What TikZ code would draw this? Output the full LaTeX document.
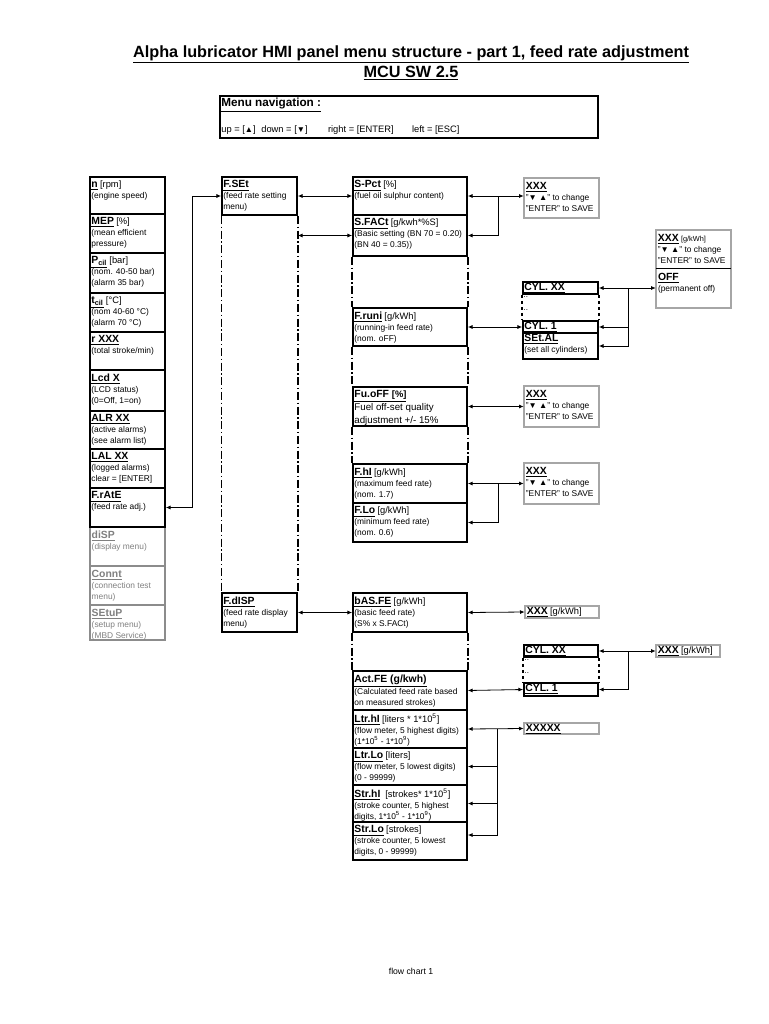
\documentclass[tikz,border=0pt]{standalone}
\usepackage{fontspec}
\setmainfont{Liberation Sans}
\usetikzlibrary{arrows.meta,fit}

\newcommand{\hd}[1]{{\fontsize{7.8}{9}\selectfont\bfseries\underline{#1}}}
\newcommand{\un}[1]{{\fontsize{7}{9}\selectfont #1}}
\newcommand{\tri}[1]{{\fontsize{6.2}{6}\selectfont #1}}

\begin{document}
\begin{tikzpicture}[
  x=0.75pt, y=-0.75pt,
  cell/.style={draw, line width=1.3pt, inner sep=0pt},
  greycell/.style={draw=black!45, line width=0.8pt, inner sep=0pt},
  dbl/.style={draw, line width=0.5pt, double=black!35, double distance=1pt, inner sep=0pt},
  txt/.style={anchor=north west, align=left, inner xsep=1.5pt, inner ysep=3.2pt, font=\fontsize{6.3}{8.2}\selectfont},
  greytxt/.style={txt, text=black!50},
  slim/.style={txt, inner ysep=1.2pt},
  rail/.style={line width=1.1pt, dash pattern=on 6pt off 2pt on 1pt off 2pt},
  dots/.style={line width=1pt, dash pattern=on 2.5pt off 2pt},
  arrow/.style={{Latex[length=3.5pt,width=3pt]}-{Latex[length=3.5pt,width=3pt]}, line width=0.6pt},
  back/.style={{Latex[length=3.5pt,width=3pt]}-, line width=0.6pt}
]
\fill[white] (0,0) rectangle (768,1024);
\useasboundingbox (0,0) rectangle (768,1024);

% title
\node[font=\fontsize{12.2}{15}\selectfont\bfseries, align=center] (title) at (411,63)
  {\underline{Alpha lubricator HMI panel menu structure - part 1, feed rate adjustment}\\\underline{MCU SW 2.5}};

% menu navigation
\node[cell, line width=1.4pt, fit={(220,96) (598,138)},
  label={[txt, inner ysep=2pt, font=\fontsize{8.8}{10}\selectfont\bfseries]north west:{\underline{Menu navigation :}}}] (nav) {};
\node[anchor=base west, inner sep=0pt, font=\fontsize{7}{9}\selectfont] (keys) at ([xshift=1.5pt,yshift=5pt]nav.south west)
  {\makebox[30pt][l]{up = [\tri{▲}]}\makebox[50pt][l]{down = [\tri{▼}]}\makebox[63pt][l]{right = [ENTER]}left = [ESC]};

% main menu
\node[greycell, fit={(90,527) (165,566)}, label={[greytxt]north west:{\hd{diSP}\\(display menu)}}] (disp) {};
\node[greycell, fit={(90,566) (165,605)}, label={[greytxt]north west:{\hd{Connt}\\(connection test\\menu)}}] (connt) {};
\node[greycell, fit={(90,605) (165,640)}, label={[greytxt]north west:{\hd{SEtuP}\\(setup menu)\\(MBD Service)}}] (setup) {};
\node[cell, fit={(90,177) (165,214)}, label={[txt]north west:{\hd{n} \un{[rpm]}\\(engine speed)}}] (n) {};
\node[cell, fit={(90,214) (165,253)}, label={[txt]north west:{\hd{MEP} \un{[\%]}\\(mean efficient\\pressure)}}] (mep) {};
\node[cell, fit={(90,253) (165,293)}, label={[txt]north west:{\hd{P\textsubscript{cil}} \un{[bar]}\\(nom. 40-50 bar)\\(alarm 35 bar)}}] (pcil) {};
\node[cell, fit={(90,293) (165,332)}, label={[txt]north west:{\hd{t\textsubscript{cil}} \un{[°C]}\\(nom 40-60 °C)\\(alarm 70 °C)}}] (tcil) {};
\node[cell, fit={(90,332) (165,370)}, label={[txt]north west:{\hd{r XXX}\\(total stroke/min)}}] (rxxx) {};
\node[cell, fit={(90,370) (165,411)}, label={[txt]north west:{\hd{Lcd X}\\(LCD status)\\(0=Off, 1=on)}}] (lcd) {};
\node[cell, fit={(90,411) (165,449)}, label={[txt]north west:{\hd{ALR XX}\\(active alarms)\\(see alarm list)}}] (alr) {};
\node[cell, fit={(90,449) (165,488)}, label={[txt]north west:{\hd{LAL XX}\\(logged alarms)\\clear = [ENTER]}}] (lal) {};
\node[cell, fit={(90,488) (165,527)}, label={[txt]north west:{\hd{F.rAtE}\\(feed rate adj.)}}] (frate) {};

% feed rate menu
\node[cell, fit={(222,177) (297,215)}, label={[txt]north west:{\hd{F.SEt}\\(feed rate setting\\menu)}}] (fset) {};
\node[cell, fit={(222,593) (297,632)}, label={[txt]north west:{\hd{F.dISP}\\(feed rate display\\menu)}}] (fdisp) {};

% setting items
\node[cell, fit={(353,177) (467,215)}, label={[txt]north west:{\hd{S-Pct} \un{[\%]}\\(fuel oil sulphur content)}}] (spct) {};
\node[cell, fit={(353,215) (467,256)}, label={[txt]north west:{\hd{S.FACt} \un{[g/kwh*\%S]}\\(Basic setting (BN 70 = 0.20)\\(BN 40 = 0.35))}}] (sfact) {};
\node[cell, fit={(353,308) (467,346)}, label={[txt]north west:{\hd{F.runi} \un{[g/kWh]}\\(running-in feed rate)\\(nom. oFF)}}] (frun) {};
\node[cell, fit={(353,387) (467,426)}, label={[txt, font=\fontsize{7.3}{9.6}\selectfont]north west:{\hd{Fu.oFF \un{[\%]}}\\Fuel off-set quality\\adjustment +/- 15\%}}] (fuoff) {};
\node[cell, fit={(353,464) (467,503)}, label={[txt]north west:{\hd{F.hI} \un{[g/kWh]}\\(maximum feed rate)\\(nom. 1.7)}}] (fhi) {};
\node[cell, fit={(353,503) (467,542)}, label={[txt]north west:{\hd{F.Lo} \un{[g/kWh]}\\(minimum feed rate)\\(nom. 0.6)}}] (flo) {};

% display items
\node[cell, fit={(353,593) (467,632)}, label={[txt]north west:{\hd{bAS.FE} \un{[g/kWh]}\\(basic feed rate)\\(S\% x S.FACt)}}] (basfe) {};
\node[cell, fit={(353,671) (467,710)}, label={[txt]north west:{\hd{Act.FE (g/kwh)}\\(Calculated feed rate based\\on measured strokes)}}] (actfe) {};
\node[cell, fit={(353,710) (467,748)}, label={[txt]north west:{\hd{Ltr.hI} \un{[liters * 1*10\textsuperscript{5}]}\\(flow meter, 5 highest digits)\\(1*10\textsuperscript{5} - 1*10\textsuperscript{9})}}] (ltrhi) {};
\node[cell, fit={(353,748) (467,785)}, label={[txt]north west:{\hd{Ltr.Lo} \un{[liters]}\\(flow meter, 5 lowest digits)\\(0 - 99999)}}] (ltrlo) {};
\node[cell, fit={(353,785) (467,822)}, label={[txt]north west:{\hd{Str.hI} \un{\ [strokes* 1*10\textsuperscript{5}]}\\(stroke counter, 5 highest\\digits, 1*10\textsuperscript{5} - 1*10\textsuperscript{9})}}] (strhi) {};
\node[cell, fit={(353,822) (467,860)}, label={[txt]north west:{\hd{Str.Lo} \un{[strokes]}\\(stroke counter, 5 lowest\\digits, 0 - 99999)}}] (strlo) {};

% value boxes
\node[dbl, fit={(524,178) (599,218)}, label={[txt]north west:{\hd{XXX}\\"\tri{▼ ▲}" to change\\"ENTER" to SAVE}}] (xa) {};
\node[dbl, fit={(656,230) (731,308)}, label={[txt]north west:{\hd{XXX} {\fontsize{5.5}{8}\selectfont [g/kWh]}\\"\tri{▼ ▲}" to change\\"ENTER" to SAVE}}] (xoff) {};
\node[inner sep=0pt, fit={(656,269) (731,308)}, label={[txt]north west:{\hd{OFF}\\(permanent off)}}] (off) {};
\node[dbl, fit={(524,386) (599,427)}, label={[txt]north west:{\hd{XXX}\\"\tri{▼ ▲}" to change\\"ENTER" to SAVE}}] (xb) {};
\node[dbl, fit={(524,463) (599,504)}, label={[txt]north west:{\hd{XXX}\\"\tri{▼ ▲}" to change\\"ENTER" to SAVE}}] (xc) {};
\node[dbl, fit={(525,606) (599,618)}, label={[slim]north west:{\hd{XXX} \un{[g/kWh]}}}] (xd) {};
\node[dbl, fit={(656,645) (720,657)}, label={[slim]north west:{\hd{XXX} \un{[g/kWh]}}}] (xe) {};
\node[dbl, fit={(524,723) (599,734)}, label={[slim]north west:{\hd{XXXXX}}}] (xf) {};

% cylinder lists
\node[cell, fit={(523,282) (598,294)}, label={[slim]north west:{\hd{CYL. XX}}}] (cylxxa) {};
\node[cell, fit={(523,321) (598,333)}, label={[slim]north west:{\hd{CYL. 1}}}] (cylia) {};
\node[cell, fit={(523,333) (598,359)}, label={[slim]north west:{\hd{SEt.AL}\\(set all cylinders)}}] (setal) {};
\node[cell, fit={(524,645) (598,657)}, label={[slim]north west:{\hd{CYL. XX}}}] (cylxxb) {};
\node[cell, fit={(524,683) (598,696)}, label={[slim]north west:{\hd{CYL. 1}}}] (cylib) {};
\node[anchor=north west, align=left, inner sep=1pt, font=\fontsize{6}{10}\selectfont] (gapa) at (cylxxa.south west) {..\\..};
\node[anchor=north west, align=left, inner sep=1pt, font=\fontsize{6}{10}\selectfont] (gapb) at (cylxxb.south west) {..\\..};

\draw[line width=1pt] (off.north west) -- (off.north east);

% menu rails
\draw[rail, line width=0.6pt] (fset.south west) -- (fdisp.north west);
\draw[rail] (fset.south east) -- (fdisp.north east);
\draw[rail] (sfact.south west) -- (frun.north west);
\draw[rail] (sfact.south east) -- (frun.north east);
\draw[rail] (frun.south west) -- (fuoff.north west);
\draw[rail] (frun.south east) -- (fuoff.north east);
\draw[rail] (fuoff.south west) -- (fhi.north west);
\draw[rail] (fuoff.south east) -- (fhi.north east);
\draw[rail] (basfe.south west) -- (actfe.north west);
\draw[rail] (basfe.south east) -- (actfe.north east);
\draw[dots] (cylxxa.south west) -- (cylia.north west);
\draw[dots] (cylxxa.south east) -- (cylia.north east);
\draw[dots] (cylxxb.south west) -- (cylib.north west);
\draw[dots] (cylxxb.south east) -- (cylib.north east);

% junctions
\coordinate (ja) at ([xshift=23pt]spct.east);
\coordinate (jb) at ([xshift=22.5pt]cylxxa.east);
\coordinate (jc) at ([xshift=23pt]fhi.east);
\coordinate (jd) at ([xshift=22.5pt]cylxxb.east);
\coordinate (je) at ([xshift=22.5pt]ltrhi.east);

% connectors
\draw[arrow] (frate.east) -- ++(27,0) |- (fset.west);
\draw[arrow] (fset.east) -- (spct.west);
\draw[arrow] (fset.east |- sfact.west) -- (sfact.west);
\draw[arrow] (spct.east) -- (spct.east -| xa.west);
\draw[back] (sfact.east) -| (ja);
\draw[arrow] (frun.east) -- (cylia.west);
\draw[arrow] (cylxxa.east) -- (cylxxa.east -| off.west);
\draw[back] (cylia.east) -| (jb);
\draw[back] (setal.east) -| (jb);
\draw[arrow] (fuoff.east) -- (xb.west);
\draw[arrow] (fhi.east) -- (xc.west);
\draw[back] (flo.east) -| (jc);
\draw[arrow] (fdisp.east) -- (basfe.west);
\draw[arrow] (basfe.east) -- (xd.west);
\draw[arrow] (actfe.east) -- (cylib.west);
\draw[arrow] (cylxxb.east) -- (xe.west);
\draw[back] (cylib.east) -| (jd);
\draw[arrow] (ltrhi.east) -- (xf.west);
\draw[back] (ltrlo.east) -| (je);
\draw[back] (strhi.east) -| (je);
\draw[back] ([yshift=4.5pt]strlo.east) -| (je);

\node[font=\fontsize{6.5}{8}\selectfont] (footer) at (411,971) {flow chart 1};
\end{tikzpicture}
\end{document}
